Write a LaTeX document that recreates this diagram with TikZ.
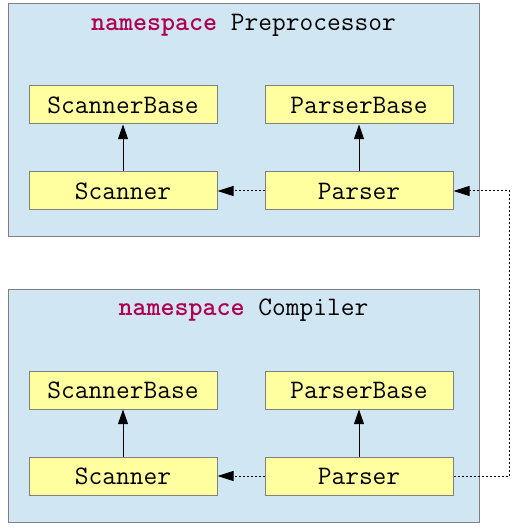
\documentclass[tikz,border=0pt]{standalone}
\usepackage{fontspec}
\usepackage{xcolor}
\usetikzlibrary{arrows.meta,positioning}
\definecolor{nsfill}{RGB}{208,230,243}
\definecolor{classfill}{RGB}{255,255,160}
\definecolor{framegray}{RGB}{128,128,128}
\definecolor{keyword}{RGB}{176,0,80}
\tikzset{
  nsbox/.style={rectangle, draw=framegray, fill=nsfill, line width=0.75pt,
    minimum width=353.25pt, minimum height=174.75pt, inner sep=0pt},
  nstitle/.style={font=\ttfamily\fontsize{20}{22}\selectfont, inner sep=0pt},
  classbox/.style={rectangle, draw=framegray, fill=classfill, line width=0.75pt,
    minimum width=141pt, minimum height=28.5pt, align=center, inner sep=0pt,
    font=\ttfamily\fontsize{20}{22}\selectfont},
  inheritarrow/.style={-{Triangle[length=11pt,width=7.5pt]}, draw=black, line width=0.75pt},
  usesarrow/.style={-{Triangle[length=12pt,width=7.5pt]}, draw=black, line width=0.75pt,
    dash pattern=on 1.5pt off 1.5pt},
}
\newcommand{\nskw}{\textcolor{keyword}{\textbf{namespace}}}

\begin{document}
\begin{tikzpicture}[x=0.75pt, y=-0.75pt, node distance=35.25pt and 35.25pt]
  \useasboundingbox (0,0) rectangle (513,530);

  % Namespace boxes
  \node[nsbox] (pre) at (243.5,120.5) {};
  \node[nsbox] (com) at (243.5,405.5) {};
  \node[nstitle, below=16.5pt of pre.north, anchor=center] (pretitle) {\nskw\ Preprocessor};
  \node[nstitle, below=16.5pt of com.north, anchor=center] (comtitle) {\nskw\ Compiler};

  % Preprocessor classes
  \node[classbox] (prescanbase) at (123,105) {ScannerBase};
  \node[classbox, right=of prescanbase] (preparsebase) {ParserBase};
  \node[classbox, below=of prescanbase] (prescan) {Scanner};
  \node[classbox, below=of preparsebase] (preparse) {Parser};

  % Compiler classes
  \node[classbox] (comscanbase) at (123,390) {ScannerBase};
  \node[classbox, right=of comscanbase] (comparsebase) {ParserBase};
  \node[classbox, below=of comscanbase] (comscan) {Scanner};
  \node[classbox, below=of comparsebase] (comparse) {Parser};

  % Inheritance
  \draw[inheritarrow] (prescan) -- (prescanbase);
  \draw[inheritarrow] (preparse) -- (preparsebase);
  \draw[inheritarrow] (comscan) -- (comscanbase);
  \draw[inheritarrow] (comparse) -- (comparsebase);

  % Uses
  \draw[usesarrow] (preparse) -- (prescan);
  \draw[usesarrow] (comparse) -- (comscan);
  \draw[usesarrow] (comparse.east) -- ++(56,0) |- (preparse.east);
\end{tikzpicture}
\end{document}
